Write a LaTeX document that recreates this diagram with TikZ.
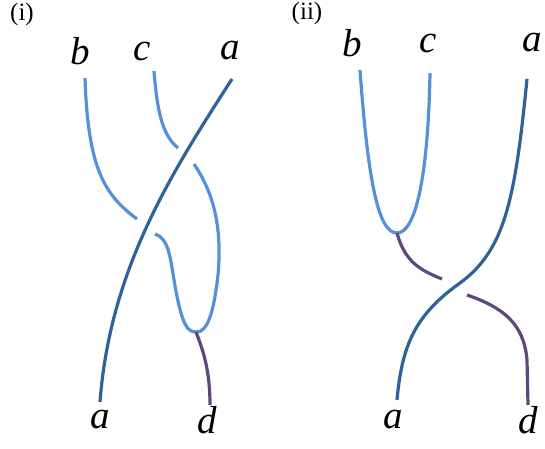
\documentclass[tikz,border=0pt]{standalone}
\usepackage{fontspec}
\setmainfont{Liberation Serif}
\begin{document}
\begin{tikzpicture}[x=1pt,y=-1pt,
  lbl/.style={font=\fontsize{39}{42}\selectfont\itshape, inner sep=0pt},
  tag/.style={font=\fontsize{25}{27}\selectfont, inner sep=0pt},
  light/.style={draw=lightblue, line width=3.2pt},
  dark/.style={draw=darkblue, line width=3.2pt},
  purp/.style={draw=purp, line width=3.2pt}]
\definecolor{lightblue}{HTML}{5590D8}
\definecolor{darkblue}{HTML}{30629A}
\definecolor{purp}{HTML}{5E4780}
\useasboundingbox (0,0) rectangle (545,448);
% panel (i)
\node[tag] (ti) at (22,14) {(i)};
\node[lbl] (b1) at (80,51) {b};
\node[lbl] (c1) at (142,51) {c};
\node[lbl] (a1) at (230,51) {a};
\node[lbl] (ab1) at (100,420) {a};
\node[lbl] (d1) at (207,420) {d};
\coordinate (b1s) at (85,78);
\coordinate (c1s) at (154,71);
\coordinate (a1s) at (232,79);
\coordinate (a1e) at (100,402);
\coordinate (d1e) at (210,405);
\coordinate (j1) at (196,332);
\path[light] (b1s) .. controls (88,170) and (105,195) .. (137,219);
\path[light] (155,234) .. controls (168,238) and (170,255) .. (174,280)
   .. controls (180,315) and (185,333) .. (j1)
   .. controls (208,333) and (214,310) .. (218,275)
   .. controls (222,230) and (215,195) .. (194,164);
\path[light] (c1s) .. controls (157,110) and (162,135) .. (178,148);
\path[dark] (a1s) .. controls (170,175) and (110,270) .. (a1e);
\path[purp] (j1) .. controls (203,350) and (210,370) .. (d1e);
% panel (ii)
\node[tag] (tii) at (307,13) {(ii)};
\node[lbl] (b2) at (352,43) {b};
\node[lbl] (c2) at (428,43) {c};
\node[lbl] (a2) at (532,43) {a};
\node[lbl] (ab2) at (393,420) {a};
\node[lbl] (d2) at (528,420) {d};
\coordinate (b2s) at (360,70);
\coordinate (c2s) at (430,73);
\coordinate (a2s) at (527,79);
\coordinate (a2e) at (397,400);
\coordinate (d2e) at (528,405);
\coordinate (j2) at (397,233);
\path[light] (b2s) .. controls (368,180) and (378,233) .. (j2)
   .. controls (415,233) and (428,180) .. (c2s);
\path[purp] (j2) .. controls (405,262) and (420,270) .. (442,279);
\path[purp] (467,295) .. controls (505,308) and (524,325) .. (527,360) -- (d2e);
\path[dark] (a2s) .. controls (515,200) and (505,250) .. (460,283)
   .. controls (415,315) and (402,345) .. (a2e);
\end{tikzpicture}
\end{document}
